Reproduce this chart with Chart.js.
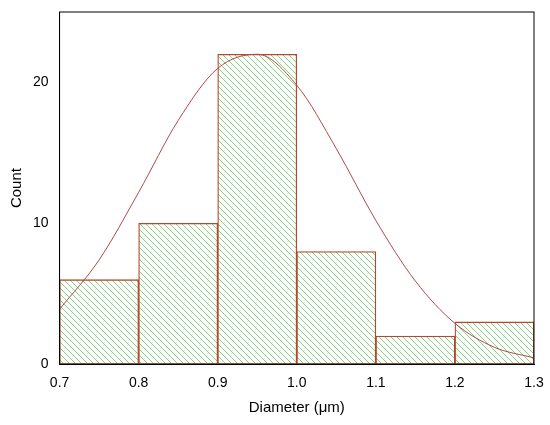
<!DOCTYPE html>
<html>
<head>
<meta charset="utf-8">
<script src="https://cdn.jsdelivr.net/npm/chart.js@4/dist/chart.umd.min.js"></script>
<style>
  body { margin: 0; background: #fff; }
  #wrap { width: 550px; height: 425px; }
</style>
</head>
<body>
<div id="wrap"><canvas id="histChart"></canvas></div>
<script>
// histogram bins (centres) and counts
const binCenters = [0.75, 0.85, 0.95, 1.05, 1.15, 1.25];
const counts = [6, 10, 22, 8, 2, 3];
// fitted curve
const curveX = [0.70, 0.75, 0.80, 0.85, 0.90, 0.95, 1.00, 1.05, 1.10, 1.15, 1.20, 1.25, 1.30];
const curveY = [3.9, 7.4, 12.2, 17.3, 21.0, 22.0, 19.8, 15.3, 10.2, 5.9, 2.9, 1.2, 0.45];
const xTicks = [0.7, 0.8, 0.9, 1.0, 1.1, 1.2, 1.3];

// green diagonal hatch
function hatch() {
    const c = document.createElement('canvas');
    c.width = 6; c.height = 6;
    const g = c.getContext('2d');
    g.fillStyle = '#ffffff';
    g.fillRect(0, 0, 6, 6);
    g.strokeStyle = '#4cc04c';
    g.lineWidth = 0.7;
    g.beginPath();
    g.moveTo(-1, -1); g.lineTo(7, 7);
    g.moveTo(-1, 5); g.lineTo(1, 7);
    g.moveTo(5, -1); g.lineTo(7, 1);
    g.stroke();
    return g.createPattern(c, 'repeat');
}

const ctx = document.getElementById('histChart').getContext('2d');
new Chart(ctx, {
    data: {
        datasets: [{
            type: 'bar',
            data: binCenters.map((x, i) => ({ x: x, y: counts[i] })),
            backgroundColor: hatch(),
            borderColor: '#b5482a',
            borderWidth: 1.3,
            borderSkipped: false,
            barPercentage: 1,
            categoryPercentage: 1,
            order: 2
        }, {
            type: 'line',
            data: curveX.map((x, i) => ({ x: x, y: curveY[i] })),
            borderColor: '#b04a4a',
            borderWidth: 1,
            pointRadius: 0,
            cubicInterpolationMode: 'monotone',
            order: 1
        }]
    },
    options: {
        responsive: true,
        maintainAspectRatio: false,
        animation: false,
        layout: { padding: { left: 4, right: 16, top: 12, bottom: 4 } },
        plugins: { legend: { display: false }, tooltip: { enabled: false } },
        scales: {
            x: {
                type: 'linear',
                offset: false,
                min: 0.7,
                max: 1.3,
                afterBuildTicks: axis => { axis.ticks = xTicks.map(v => ({ value: v })); },
                ticks: {
                    callback: v => v.toFixed(1),
                    color: '#000',
                    font: { family: 'Arial', size: 14 }
                },
                grid: { display: false },
                border: { color: '#000', width: 1 },
                title: { display: true, text: 'Diameter (\u03bcm)', color: '#000', font: { family: 'Arial', size: 15 } }
            },
            y: {
                min: 0,
                max: 25,
                afterBuildTicks: axis => { axis.ticks = [0, 10, 20].map(v => ({ value: v })); },
                ticks: {
                    color: '#000',
                    font: { family: 'Arial', size: 14 }
                },
                grid: { display: false },
                border: { color: '#000', width: 1 },
                title: { display: true, text: 'Count', color: '#000', font: { family: 'Arial', size: 15 } }
            }
        }
    },
    plugins: [{
        id: 'frame',
        afterDraw(chart) {
            const a = chart.chartArea, g = chart.ctx;
            g.save();
            g.strokeStyle = '#000';
            g.lineWidth = 1;
            g.strokeRect(a.left, a.top, a.right - a.left, a.bottom - a.top);
            g.restore();
        }
    }]
});
</script>
</body>
</html>
